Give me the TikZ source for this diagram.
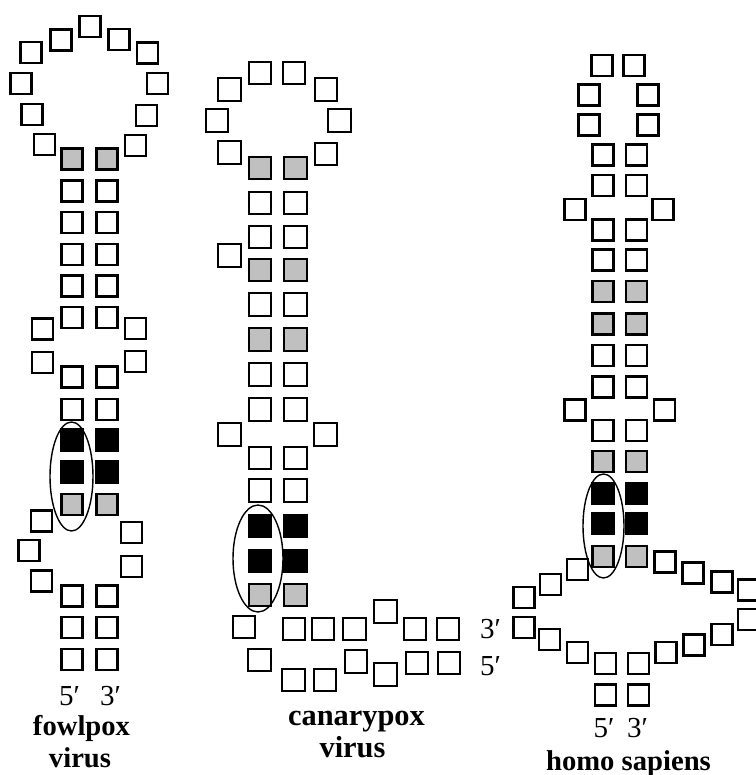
\documentclass[tikz,border=0pt]{standalone}
\usepackage{fontspec}
\setmainfont{Liberation Serif}
\definecolor{boxgrey}{RGB}{192,192,192}

\begin{document}
\begin{tikzpicture}[x=0.02cm, y=-0.02cm,
        box/.style={draw, line width=1.3pt, minimum size=0.42cm, inner sep=0pt, fill=white},
        gbox/.style={box, fill=boxgrey},
        kbox/.style={box, fill=black},
        big/.style={minimum size=0.45cm},
        prime/.style={anchor=base, font=\fontsize{16.5}{18}\selectfont},
        species/.style={anchor=base, font=\bfseries\fontsize{16.3}{18}\selectfont}]

        \useasboundingbox (0,0) rectangle (756,775);
        \clip (0,0) rectangle (756,775);

        % fowlpox virus
        \foreach \x/\y [count=\i] in {31/52.5, 61/40, 90/26.5, 119/39.5, 147.5/53,
                21/83.5, 157.5/83.5, 32/114.5, 146.5/115.5, 44.5/144.5, 135.5/145.5,
                42.5/329, 42.5/362.5, 135.5/328.5, 135.5/361.5,
                41.5/521, 29/550.5, 41.5/581, 131.5/532.5, 131.5/566.5}
            \node[box] (fl\i) at (\x,\y) {};
        \foreach \y/\s [count=\i] in {159/gbox, 191/box, 222.5/box, 254.5/box, 286/box, 317.5/box,
                377/box, 409.5/box, 440/kbox, 472/kbox, 504.5/gbox, 596/box, 627.5/box, 659.5/box} {
            \node[\s] (fa\i) at (72,\y) {};
            \node[\s] (fb\i) at (107,\y) {};
        }
        \draw[line width=0.8pt] (71.5,476.5) ellipse (21.5 and 54.5);
        \node[prime] (f5) at (69.5,705) {5′};
        \node[prime] (f3) at (110.5,705) {3′};
        \node[species] (fname) at (81.5,735) {fowlpox};
        \node[species] (fvir) at (80,767) {virus};

        % canarypox virus
        \foreach \x/\y [count=\i] in {260/73, 294/73, 229.5/89.5, 326/89.5, 217/120.5, 339.5/120.5,
                229.5/152.5, 326/154, 229.5/255.5, 229.5/434.5, 325.5/434.5,
                244/627, 294/629, 323/629, 354.5/629, 385.5/611.5, 415/629, 448/629,
                259.5/660, 293.5/680, 325/680, 356/661.5, 385.5/674.5, 417/663, 449/663}
            \node[box, big] (cl\i) at (\x,\y) {};
        \foreach \y/\s [count=\i] in {168/gbox, 203/box, 237/box, 270/gbox, 304.5/box, 339.5/gbox,
                374.5/box, 409.5/box, 458/box, 490.5/box, 526/kbox, 561/kbox, 595/gbox} {
            \node[\s, big] (ca\i) at (260,\y) {};
            \node[\s, big] (cb\i) at (295.5,\y) {};
        }
        \draw[line width=0.8pt] (258,558.5) ellipse (25 and 53.5);
        \node[prime, anchor=base west] (c3) at (474,638) {3′};
        \node[prime, anchor=base west] (c5) at (474,675) {5′};
        \node[species, font=\bfseries\fontsize{17.3}{19}\selectfont] (cname) at (356.5,725) {canarypox};
        \node[species, font=\bfseries\fontsize{17.3}{19}\selectfont] (cvir) at (352.5,757) {virus};

        % homo sapiens
        \foreach \x/\y [count=\i] in {602/65.5, 634/65.5, 589/95, 648/95, 589/125, 648/125,
                575/209.5, 663/209.5, 575/410, 664.5/410,
                665/562, 693/573, 722/582, 748.5/590,
                577.5/569.5, 550.5/584.5, 524/597.5,
                524/627.5, 549.5/639.5, 577.5/652.5, 605.5/663.5, 638.5/663.5,
                666/652.5, 694/645, 722/634.5, 748.5/619.5, 605.5/695, 638.5/695}
            \node[box] (hl\i) at (\x,\y) {};
        \foreach \y/\s [count=\i] in {155/box, 185.5/box, 230/box, 260/box, 291.5/gbox, 324/gbox,
                355.5/box, 387/box, 430.5/box, 461.5/gbox, 493.5/kbox, 523.5/kbox, 556.5/gbox} {
            \node[\s] (ha\i) at (603,\y) {};
            \node[\s] (hb\i) at (636.5,\y) {};
        }
        \draw[line width=0.8pt] (603.5,526) ellipse (20.5 and 52);
        \node[prime] (h5) at (604,737) {5′};
        \node[prime] (h3) at (637.5,737) {3′};
        \node[species] (hname) at (628.5,770) {homo sapiens};

\end{tikzpicture}
\end{document}
